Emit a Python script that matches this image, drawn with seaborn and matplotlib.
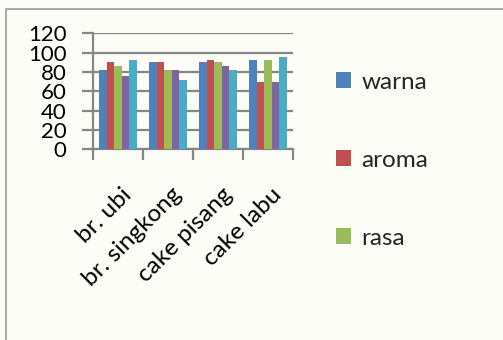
import matplotlib
matplotlib.use("Agg")
import matplotlib.pyplot as plt
import matplotlib.transforms as mtransforms
from matplotlib.patches import Rectangle, Patch
import seaborn as sns
import pandas as pd

# ---- data ----
categories = ["br. ubi", "br. singkong", "cake pisang", "cake labu"]
warna = [82, 90, 90, 92]
aroma = [90, 90, 92, 70]
rasa = [86, 82, 90, 92]
tekstur = [76, 82, 86, 70]
keseluruhan = [92, 72, 82, 96]
series_names = ["warna", "aroma", "rasa", "tekstur", "keseluruhan"]
legend_names = ["warna", "aroma", "rasa"]
yticks = [0, 20, 40, 60, 80, 100, 120]

colors = ["#4F81BD", "#C0504D", "#9BBB59", "#8064A2", "#4BACC6"]

rows = []
for name, vals in zip(series_names, [warna, aroma, rasa, tekstur, keseluruhan]):
    for c, v in zip(categories, vals):
        rows.append({"produk": c, "atribut": name, "nilai": v})
df = pd.DataFrame(rows)

sns.set_style("white")
plt.rcParams["font.family"] = ["Lato", "DejaVu Sans"]

W, H = 503, 340
fig = plt.figure(figsize=(W / 100, H / 100), dpi=100)
bg = "#FCFDF7"
fig.patch.set_facecolor(bg)

# chart frame (cropped at right/bottom)
fig.patches.append(Rectangle((6 / W, -0.1), 1.2, (H - 9) / H + 0.1,
                             transform=fig.transFigure, fill=False,
                             edgecolor="#A0A0A0", linewidth=1.3, zorder=0))

ax = fig.add_axes([93 / W, (H - 149.3) / H, 200 / W, 116 / H])
ax.set_facecolor("none")

sns.barplot(data=df, x="produk", y="nilai", hue="atribut", palette=colors,
            width=0.76, saturation=1, ax=ax, legend=False, errorbar=None,
            linewidth=0, zorder=3)

ax.set_ylim(0, 120)
ax.set_xlim(-0.5, 3.5)
ax.set_yticks(yticks)
ax.set_xlabel("")
ax.set_ylabel("")

grid_c = "#868686"
ax.yaxis.grid(True, color=grid_c, linewidth=1.6, zorder=1)
ax.set_axisbelow(True)
for s in ["top", "right"]:
    ax.spines[s].set_visible(False)
for s in ["left", "bottom"]:
    ax.spines[s].set_color(grid_c)
    ax.spines[s].set_linewidth(1.6)

ax.tick_params(axis="y", direction="out", length=8, width=1.6, color=grid_c,
               labelsize=16, pad=11, left=True)
ax.set_xticks(range(len(categories)))
ax.set_xticklabels(categories, rotation=45, ha="right", va="top",
                   rotation_mode="anchor", fontsize=17.5)
ax.tick_params(axis="x", length=0, pad=25)
ax.set_xticks([i - 0.5 for i in range(len(categories) + 1)], minor=True)
ax.tick_params(axis="x", which="minor", direction="out", length=8,
               width=1.6, color=grid_c, bottom=True)
offset = mtransforms.ScaledTranslation(3 / 100, 0, fig.dpi_scale_trans)
for lbl in ax.get_xticklabels():
    lbl.set_transform(lbl.get_transform() + offset)
for lbl in ax.get_yticklabels() + ax.get_xticklabels():
    lbl.set_color("#000000")

handles = [Patch(facecolor=colors[i], edgecolor="none") for i in range(len(legend_names))]
leg = fig.legend(handles, legend_names, loc="upper left",
                 bbox_to_anchor=(314 / W, 1 - 50 / H), frameon=False,
                 fontsize=17.5, handlelength=0.62, handleheight=0.62,
                 handletextpad=0.42, labelspacing=2.34)

fig.savefig("out.png", dpi=100, facecolor=bg)
